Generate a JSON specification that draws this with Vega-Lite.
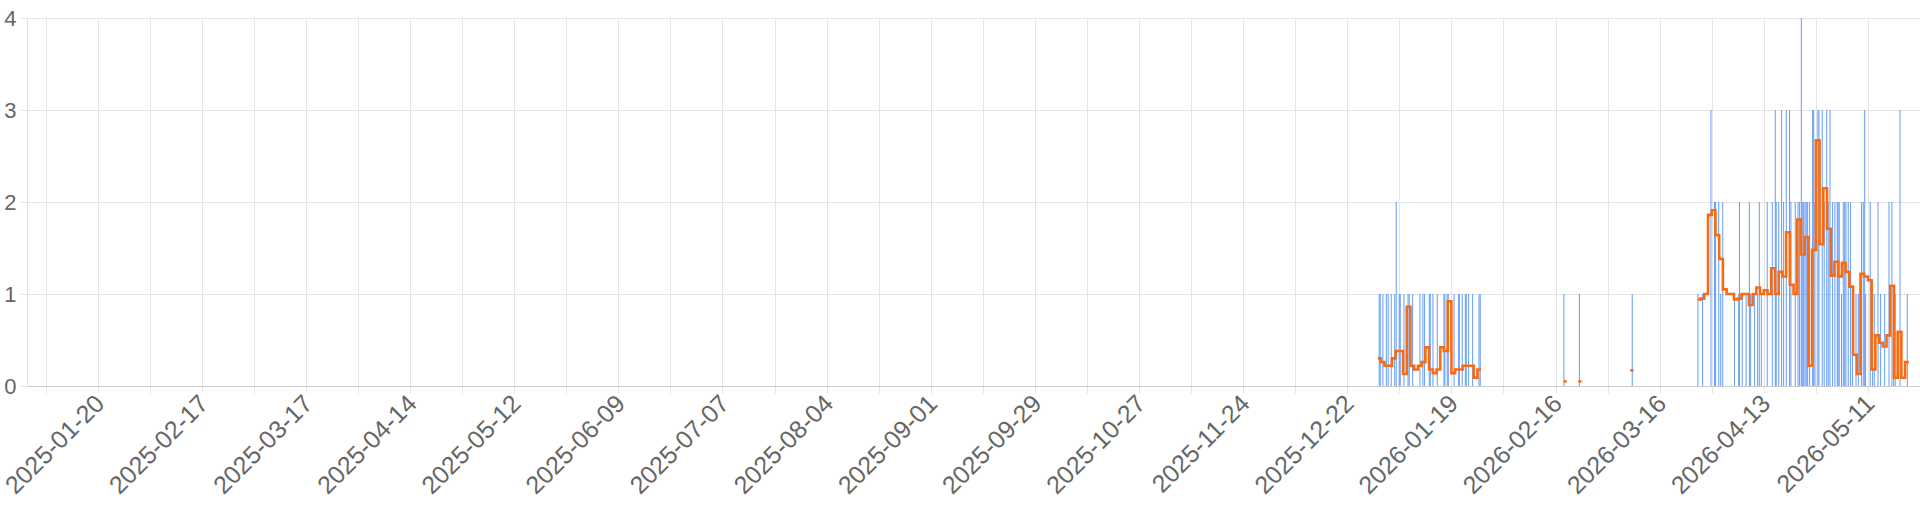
{
  "$schema": "https://vega.github.io/schema/vega-lite/v6.json",
  "width": 1893,
  "height": 368,
  "autosize": {"type": "none"},
  "padding": {"left": 27, "top": 18, "right": 0, "bottom": 126},
  "background": "white",
  "config": {
    "view": {"stroke": null},
    "font": "Liberation Sans",
    "axis": {"labelFont": "Liberation Sans"}
  },
  "datasets": {
    "bars": [
      {"t": "2025-12-30T14:00:00Z", "v": 1},
      {"t": "2025-12-30T21:00:00Z", "v": 1},
      {"t": "2025-12-31T14:00:00Z", "v": 1},
      {"t": "2026-01-01T12:00:00Z", "v": 1},
      {"t": "2026-01-02T00:00:00Z", "v": 1},
      {"t": "2026-01-02T20:00:00Z", "v": 1},
      {"t": "2026-01-03T18:00:00Z", "v": 1},
      {"t": "2026-01-04T04:00:00Z", "v": 2},
      {"t": "2026-01-04T23:00:00Z", "v": 1},
      {"t": "2026-01-05T06:00:00Z", "v": 1},
      {"t": "2026-01-06T06:00:00Z", "v": 1},
      {"t": "2026-01-07T08:00:00Z", "v": 1},
      {"t": "2026-01-07T16:00:00Z", "v": 1},
      {"t": "2026-01-08T14:00:00Z", "v": 1},
      {"t": "2026-01-10T13:00:00Z", "v": 1},
      {"t": "2026-01-11T08:00:00Z", "v": 1},
      {"t": "2026-01-11T19:00:00Z", "v": 1},
      {"t": "2026-01-13T01:00:00Z", "v": 1},
      {"t": "2026-01-13T08:00:00Z", "v": 1},
      {"t": "2026-01-14T01:00:00Z", "v": 1},
      {"t": "2026-01-15T05:00:00Z", "v": 1},
      {"t": "2026-01-17T00:00:00Z", "v": 1},
      {"t": "2026-01-17T06:00:00Z", "v": 1},
      {"t": "2026-01-17T21:00:00Z", "v": 1},
      {"t": "2026-01-18T04:00:00Z", "v": 1},
      {"t": "2026-01-19T17:00:00Z", "v": 1},
      {"t": "2026-01-20T23:00:00Z", "v": 1},
      {"t": "2026-01-21T03:00:00Z", "v": 1},
      {"t": "2026-01-21T22:00:00Z", "v": 1},
      {"t": "2026-01-22T18:00:00Z", "v": 1},
      {"t": "2026-01-23T00:00:00Z", "v": 1},
      {"t": "2026-01-23T15:00:00Z", "v": 1},
      {"t": "2026-01-24T17:00:00Z", "v": 1},
      {"t": "2026-01-26T10:00:00Z", "v": 1},
      {"t": "2026-01-26T18:00:00Z", "v": 1},
      {"t": "2026-02-18T06:00:00Z", "v": 1},
      {"t": "2026-02-22T10:00:00Z", "v": 1},
      {"t": "2026-03-08T15:00:00Z", "v": 1},
      {"t": "2026-03-26T07:00:00Z", "v": 1},
      {"t": "2026-03-27T13:00:00Z", "v": 1},
      {"t": "2026-03-29T19:00:00Z", "v": 3},
      {"t": "2026-03-30T18:00:00Z", "v": 2},
      {"t": "2026-03-31T01:00:00Z", "v": 2},
      {"t": "2026-03-31T21:00:00Z", "v": 2},
      {"t": "2026-04-01T10:00:00Z", "v": 1},
      {"t": "2026-04-01T23:00:00Z", "v": 2},
      {"t": "2026-04-05T03:00:00Z", "v": 1},
      {"t": "2026-04-06T06:00:00Z", "v": 1},
      {"t": "2026-04-06T11:00:00Z", "v": 2},
      {"t": "2026-04-07T05:00:00Z", "v": 1},
      {"t": "2026-04-08T06:00:00Z", "v": 1},
      {"t": "2026-04-09T03:00:00Z", "v": 2},
      {"t": "2026-04-09T11:00:00Z", "v": 1},
      {"t": "2026-04-10T13:00:00Z", "v": 1},
      {"t": "2026-04-11T08:00:00Z", "v": 1},
      {"t": "2026-04-11T19:00:00Z", "v": 2},
      {"t": "2026-04-12T08:00:00Z", "v": 1},
      {"t": "2026-04-13T22:00:00Z", "v": 2},
      {"t": "2026-04-15T07:00:00Z", "v": 2},
      {"t": "2026-04-16T02:00:00Z", "v": 3},
      {"t": "2026-04-16T08:00:00Z", "v": 2},
      {"t": "2026-04-17T00:00:00Z", "v": 2},
      {"t": "2026-04-17T19:00:00Z", "v": 3},
      {"t": "2026-04-18T08:00:00Z", "v": 2},
      {"t": "2026-04-19T01:00:00Z", "v": 3},
      {"t": "2026-04-19T22:00:00Z", "v": 3},
      {"t": "2026-04-20T07:00:00Z", "v": 2},
      {"t": "2026-04-21T11:00:00Z", "v": 2},
      {"t": "2026-04-22T05:00:00Z", "v": 2},
      {"t": "2026-04-22T15:00:00Z", "v": 2},
      {"t": "2026-04-23T02:00:00Z", "v": 4},
      {"t": "2026-04-23T08:00:00Z", "v": 2},
      {"t": "2026-04-23T17:00:00Z", "v": 2},
      {"t": "2026-04-24T02:00:00Z", "v": 2},
      {"t": "2026-04-24T10:00:00Z", "v": 2},
      {"t": "2026-04-24T19:00:00Z", "v": 2},
      {"t": "2026-04-25T08:00:00Z", "v": 2},
      {"t": "2026-04-26T03:00:00Z", "v": 3},
      {"t": "2026-04-26T10:00:00Z", "v": 3},
      {"t": "2026-04-26T18:00:00Z", "v": 2},
      {"t": "2026-04-27T13:00:00Z", "v": 3},
      {"t": "2026-04-27T20:00:00Z", "v": 3},
      {"t": "2026-04-28T17:00:00Z", "v": 3},
      {"t": "2026-04-29T06:00:00Z", "v": 2},
      {"t": "2026-04-29T22:00:00Z", "v": 3},
      {"t": "2026-04-30T08:00:00Z", "v": 2},
      {"t": "2026-04-30T19:00:00Z", "v": 3},
      {"t": "2026-05-01T12:00:00Z", "v": 2},
      {"t": "2026-05-02T03:00:00Z", "v": 2},
      {"t": "2026-05-02T18:00:00Z", "v": 2},
      {"t": "2026-05-03T00:00:00Z", "v": 2},
      {"t": "2026-05-03T07:00:00Z", "v": 2},
      {"t": "2026-05-03T22:00:00Z", "v": 1},
      {"t": "2026-05-04T09:00:00Z", "v": 2},
      {"t": "2026-05-04T18:00:00Z", "v": 2},
      {"t": "2026-05-05T02:00:00Z", "v": 2},
      {"t": "2026-05-05T17:00:00Z", "v": 2},
      {"t": "2026-05-06T08:00:00Z", "v": 2},
      {"t": "2026-05-06T21:00:00Z", "v": 1},
      {"t": "2026-05-07T19:00:00Z", "v": 1},
      {"t": "2026-05-08T10:00:00Z", "v": 1},
      {"t": "2026-05-09T07:00:00Z", "v": 2},
      {"t": "2026-05-09T18:00:00Z", "v": 2},
      {"t": "2026-05-10T03:00:00Z", "v": 3},
      {"t": "2026-05-10T09:00:00Z", "v": 1},
      {"t": "2026-05-11T15:00:00Z", "v": 2},
      {"t": "2026-05-12T06:00:00Z", "v": 1},
      {"t": "2026-05-12T17:00:00Z", "v": 1},
      {"t": "2026-05-13T17:00:00Z", "v": 2},
      {"t": "2026-05-14T10:00:00Z", "v": 1},
      {"t": "2026-05-15T12:00:00Z", "v": 1},
      {"t": "2026-05-16T16:00:00Z", "v": 2},
      {"t": "2026-05-17T11:00:00Z", "v": 2},
      {"t": "2026-05-17T22:00:00Z", "v": 1},
      {"t": "2026-05-18T08:00:00Z", "v": 1},
      {"t": "2026-05-19T15:00:00Z", "v": 3},
      {"t": "2026-05-21T14:00:00Z", "v": 1}
    ],
    "avg": [
      {"d": "2025-12-30T06:00:00Z", "a": 0.30, "seg": "A"},
      {"d": "2025-12-31T00:00:00Z", "a": 0.26, "seg": "A"},
      {"d": "2026-01-01T00:00:00Z", "a": 0.22, "seg": "A"},
      {"d": "2026-01-02T00:00:00Z", "a": 0.22, "seg": "A"},
      {"d": "2026-01-03T00:00:00Z", "a": 0.30, "seg": "A"},
      {"d": "2026-01-04T00:00:00Z", "a": 0.38, "seg": "A"},
      {"d": "2026-01-05T00:00:00Z", "a": 0.38, "seg": "A"},
      {"d": "2026-01-06T00:00:00Z", "a": 0.13, "seg": "A"},
      {"d": "2026-01-07T00:00:00Z", "a": 0.86, "seg": "A"},
      {"d": "2026-01-08T00:00:00Z", "a": 0.22, "seg": "A"},
      {"d": "2026-01-09T00:00:00Z", "a": 0.18, "seg": "A"},
      {"d": "2026-01-10T00:00:00Z", "a": 0.22, "seg": "A"},
      {"d": "2026-01-11T00:00:00Z", "a": 0.26, "seg": "A"},
      {"d": "2026-01-12T00:00:00Z", "a": 0.42, "seg": "A"},
      {"d": "2026-01-13T00:00:00Z", "a": 0.18, "seg": "A"},
      {"d": "2026-01-14T00:00:00Z", "a": 0.14, "seg": "A"},
      {"d": "2026-01-15T00:00:00Z", "a": 0.18, "seg": "A"},
      {"d": "2026-01-16T00:00:00Z", "a": 0.42, "seg": "A"},
      {"d": "2026-01-17T00:00:00Z", "a": 0.38, "seg": "A"},
      {"d": "2026-01-18T00:00:00Z", "a": 0.92, "seg": "A"},
      {"d": "2026-01-19T00:00:00Z", "a": 0.14, "seg": "A"},
      {"d": "2026-01-20T00:00:00Z", "a": 0.18, "seg": "A"},
      {"d": "2026-01-21T00:00:00Z", "a": 0.18, "seg": "A"},
      {"d": "2026-01-22T00:00:00Z", "a": 0.22, "seg": "A"},
      {"d": "2026-01-23T00:00:00Z", "a": 0.22, "seg": "A"},
      {"d": "2026-01-24T00:00:00Z", "a": 0.22, "seg": "A"},
      {"d": "2026-01-25T00:00:00Z", "a": 0.09, "seg": "A"},
      {"d": "2026-01-26T00:00:00Z", "a": 0.18, "seg": "A"},
      {"d": "2026-01-27T00:00:00Z", "a": 0.18, "seg": "A"},
      {"d": "2026-02-18T06:00:00Z", "a": 0.05, "seg": "B"},
      {"d": "2026-02-19T00:00:00Z", "a": 0.05, "seg": "B"},
      {"d": "2026-02-22T03:00:00Z", "a": 0.05, "seg": "C"},
      {"d": "2026-02-23T00:00:00Z", "a": 0.05, "seg": "C"},
      {"d": "2026-03-08T02:00:00Z", "a": 0.17, "seg": "D"},
      {"d": "2026-03-09T00:00:00Z", "a": 0.17, "seg": "D"},
      {"d": "2026-03-26T07:00:00Z", "a": 0.94, "seg": "E"},
      {"d": "2026-03-27T00:00:00Z", "a": 0.95, "seg": "E"},
      {"d": "2026-03-28T00:00:00Z", "a": 1.00, "seg": "E"},
      {"d": "2026-03-29T00:00:00Z", "a": 1.86, "seg": "E"},
      {"d": "2026-03-30T00:00:00Z", "a": 1.91, "seg": "E"},
      {"d": "2026-03-31T00:00:00Z", "a": 1.64, "seg": "E"},
      {"d": "2026-04-01T00:00:00Z", "a": 1.38, "seg": "E"},
      {"d": "2026-04-02T00:00:00Z", "a": 1.05, "seg": "E"},
      {"d": "2026-04-03T00:00:00Z", "a": 1.00, "seg": "E"},
      {"d": "2026-04-04T00:00:00Z", "a": 1.00, "seg": "E"},
      {"d": "2026-04-05T00:00:00Z", "a": 0.94, "seg": "E"},
      {"d": "2026-04-06T00:00:00Z", "a": 0.95, "seg": "E"},
      {"d": "2026-04-07T00:00:00Z", "a": 1.00, "seg": "E"},
      {"d": "2026-04-08T00:00:00Z", "a": 1.00, "seg": "E"},
      {"d": "2026-04-09T00:00:00Z", "a": 0.88, "seg": "E"},
      {"d": "2026-04-10T00:00:00Z", "a": 1.00, "seg": "E"},
      {"d": "2026-04-11T00:00:00Z", "a": 1.07, "seg": "E"},
      {"d": "2026-04-12T00:00:00Z", "a": 1.00, "seg": "E"},
      {"d": "2026-04-13T00:00:00Z", "a": 1.04, "seg": "E"},
      {"d": "2026-04-14T00:00:00Z", "a": 1.00, "seg": "E"},
      {"d": "2026-04-15T00:00:00Z", "a": 1.28, "seg": "E"},
      {"d": "2026-04-16T00:00:00Z", "a": 1.00, "seg": "E"},
      {"d": "2026-04-17T00:00:00Z", "a": 1.24, "seg": "E"},
      {"d": "2026-04-18T00:00:00Z", "a": 1.19, "seg": "E"},
      {"d": "2026-04-19T00:00:00Z", "a": 1.67, "seg": "E"},
      {"d": "2026-04-20T00:00:00Z", "a": 1.10, "seg": "E"},
      {"d": "2026-04-21T00:00:00Z", "a": 1.00, "seg": "E"},
      {"d": "2026-04-22T00:00:00Z", "a": 1.81, "seg": "E"},
      {"d": "2026-04-23T00:00:00Z", "a": 1.43, "seg": "E"},
      {"d": "2026-04-24T00:00:00Z", "a": 1.62, "seg": "E"},
      {"d": "2026-04-25T00:00:00Z", "a": 0.22, "seg": "E"},
      {"d": "2026-04-26T00:00:00Z", "a": 1.48, "seg": "E"},
      {"d": "2026-04-27T00:00:00Z", "a": 2.67, "seg": "E"},
      {"d": "2026-04-28T00:00:00Z", "a": 1.54, "seg": "E"},
      {"d": "2026-04-29T00:00:00Z", "a": 2.15, "seg": "E"},
      {"d": "2026-04-30T00:00:00Z", "a": 1.71, "seg": "E"},
      {"d": "2026-05-01T00:00:00Z", "a": 1.20, "seg": "E"},
      {"d": "2026-05-02T00:00:00Z", "a": 1.35, "seg": "E"},
      {"d": "2026-05-03T00:00:00Z", "a": 1.19, "seg": "E"},
      {"d": "2026-05-04T00:00:00Z", "a": 1.34, "seg": "E"},
      {"d": "2026-05-05T00:00:00Z", "a": 1.24, "seg": "E"},
      {"d": "2026-05-06T00:00:00Z", "a": 1.08, "seg": "E"},
      {"d": "2026-05-07T00:00:00Z", "a": 0.34, "seg": "E"},
      {"d": "2026-05-08T00:00:00Z", "a": 0.13, "seg": "E"},
      {"d": "2026-05-09T00:00:00Z", "a": 1.22, "seg": "E"},
      {"d": "2026-05-10T00:00:00Z", "a": 1.19, "seg": "E"},
      {"d": "2026-05-11T00:00:00Z", "a": 1.15, "seg": "E"},
      {"d": "2026-05-12T00:00:00Z", "a": 0.18, "seg": "E"},
      {"d": "2026-05-13T00:00:00Z", "a": 0.55, "seg": "E"},
      {"d": "2026-05-14T00:00:00Z", "a": 0.47, "seg": "E"},
      {"d": "2026-05-15T00:00:00Z", "a": 0.43, "seg": "E"},
      {"d": "2026-05-16T00:00:00Z", "a": 0.55, "seg": "E"},
      {"d": "2026-05-17T00:00:00Z", "a": 1.09, "seg": "E"},
      {"d": "2026-05-18T00:00:00Z", "a": 0.09, "seg": "E"},
      {"d": "2026-05-19T00:00:00Z", "a": 0.59, "seg": "E"},
      {"d": "2026-05-20T00:00:00Z", "a": 0.09, "seg": "E"},
      {"d": "2026-05-21T00:00:00Z", "a": 0.26, "seg": "E"},
      {"d": "2026-05-22T00:00:00Z", "a": 0.26, "seg": "E"}
    ]
  },
  "layer": [
    {
      "data": {"name": "bars"},
      "mark": {"type": "rule", "color": "#4a8cf5", "strokeWidth": 1, "opacity": 0.85},
      "encoding": {
        "x": {
          "field": "t",
          "type": "temporal",
          "scale": {
            "type": "utc",
            "domain": [1735689600000, 1779667200000],
            "nice": false
          },
          "axis": {
            "title": null,
            "values": [1736121600000, 1736726400000, 1737331200000, 1737936000000, 1738540800000, 1739145600000, 1739750400000, 1740355200000, 1740960000000, 1741564800000, 1742169600000, 1742774400000, 1743379200000, 1743984000000, 1744588800000, 1745193600000, 1745798400000, 1746403200000, 1747008000000, 1747612800000, 1748217600000, 1748822400000, 1749427200000, 1750032000000, 1750636800000, 1751241600000, 1751846400000, 1752451200000, 1753056000000, 1753660800000, 1754265600000, 1754870400000, 1755475200000, 1756080000000, 1756684800000, 1757289600000, 1757894400000, 1758499200000, 1759104000000, 1759708800000, 1760313600000, 1760918400000, 1761523200000, 1762128000000, 1762732800000, 1763337600000, 1763942400000, 1764547200000, 1765152000000, 1765756800000, 1766361600000, 1766966400000, 1767571200000, 1768176000000, 1768780800000, 1769385600000, 1769990400000, 1770595200000, 1771200000000, 1771804800000, 1772409600000, 1773014400000, 1773619200000, 1774224000000, 1774828800000, 1775433600000, 1776038400000, 1776643200000, 1777248000000, 1777852800000, 1778457600000, 1779062400000],
            "labelExpr": "((+datum.value - 1736121600000) / 604800000) % 4 == 2 ? utcFormat(datum.value, '%Y-%m-%d') : ''",
            "labelAngle": -45,
            "labelAlign": "right",
            "labelBaseline": "middle",
            "labelFontSize": 25,
            "labelColor": "#666666",
            "labelOverlap": false,
            "labelFlush": false,
            "labelBound": false,
            "labelPadding": 6,
            "labelOffset": 2,
            "grid": true,
            "gridColor": "#e5e5e5",
            "gridWidth": 1,
            "ticks": true,
            "tickColor": "#e5e5e5",
            "tickSize": 7,
            "domain": true,
            "domainColor": "#cccccc"
          }
        },
        "y": {
          "field": "v",
          "type": "quantitative",
          "scale": {"domain": [0, 4], "nice": false},
          "axis": {
            "title": null,
            "values": [0, 1, 2, 3, 4],
            "format": "d",
            "grid": true,
            "gridColor": "#e5e5e5",
            "tickColor": "#e5e5e5",
            "tickSize": 7,
            "domainColor": "#e0e0e0",
            "labelFontSize": 22,
            "labelColor": "#666666",
            "labelPadding": 4
          }
        },
        "y2": {"datum": 0}
      }
    },
    {
      "data": {"name": "avg"},
      "mark": {"type": "line", "interpolate": "step-after", "color": "#fb6a10", "strokeWidth": 2.6},
      "encoding": {
        "x": {"field": "d", "type": "temporal"},
        "y": {"field": "a", "type": "quantitative"},
        "detail": {"field": "seg", "type": "nominal"}
      }
    }
  ]
}
